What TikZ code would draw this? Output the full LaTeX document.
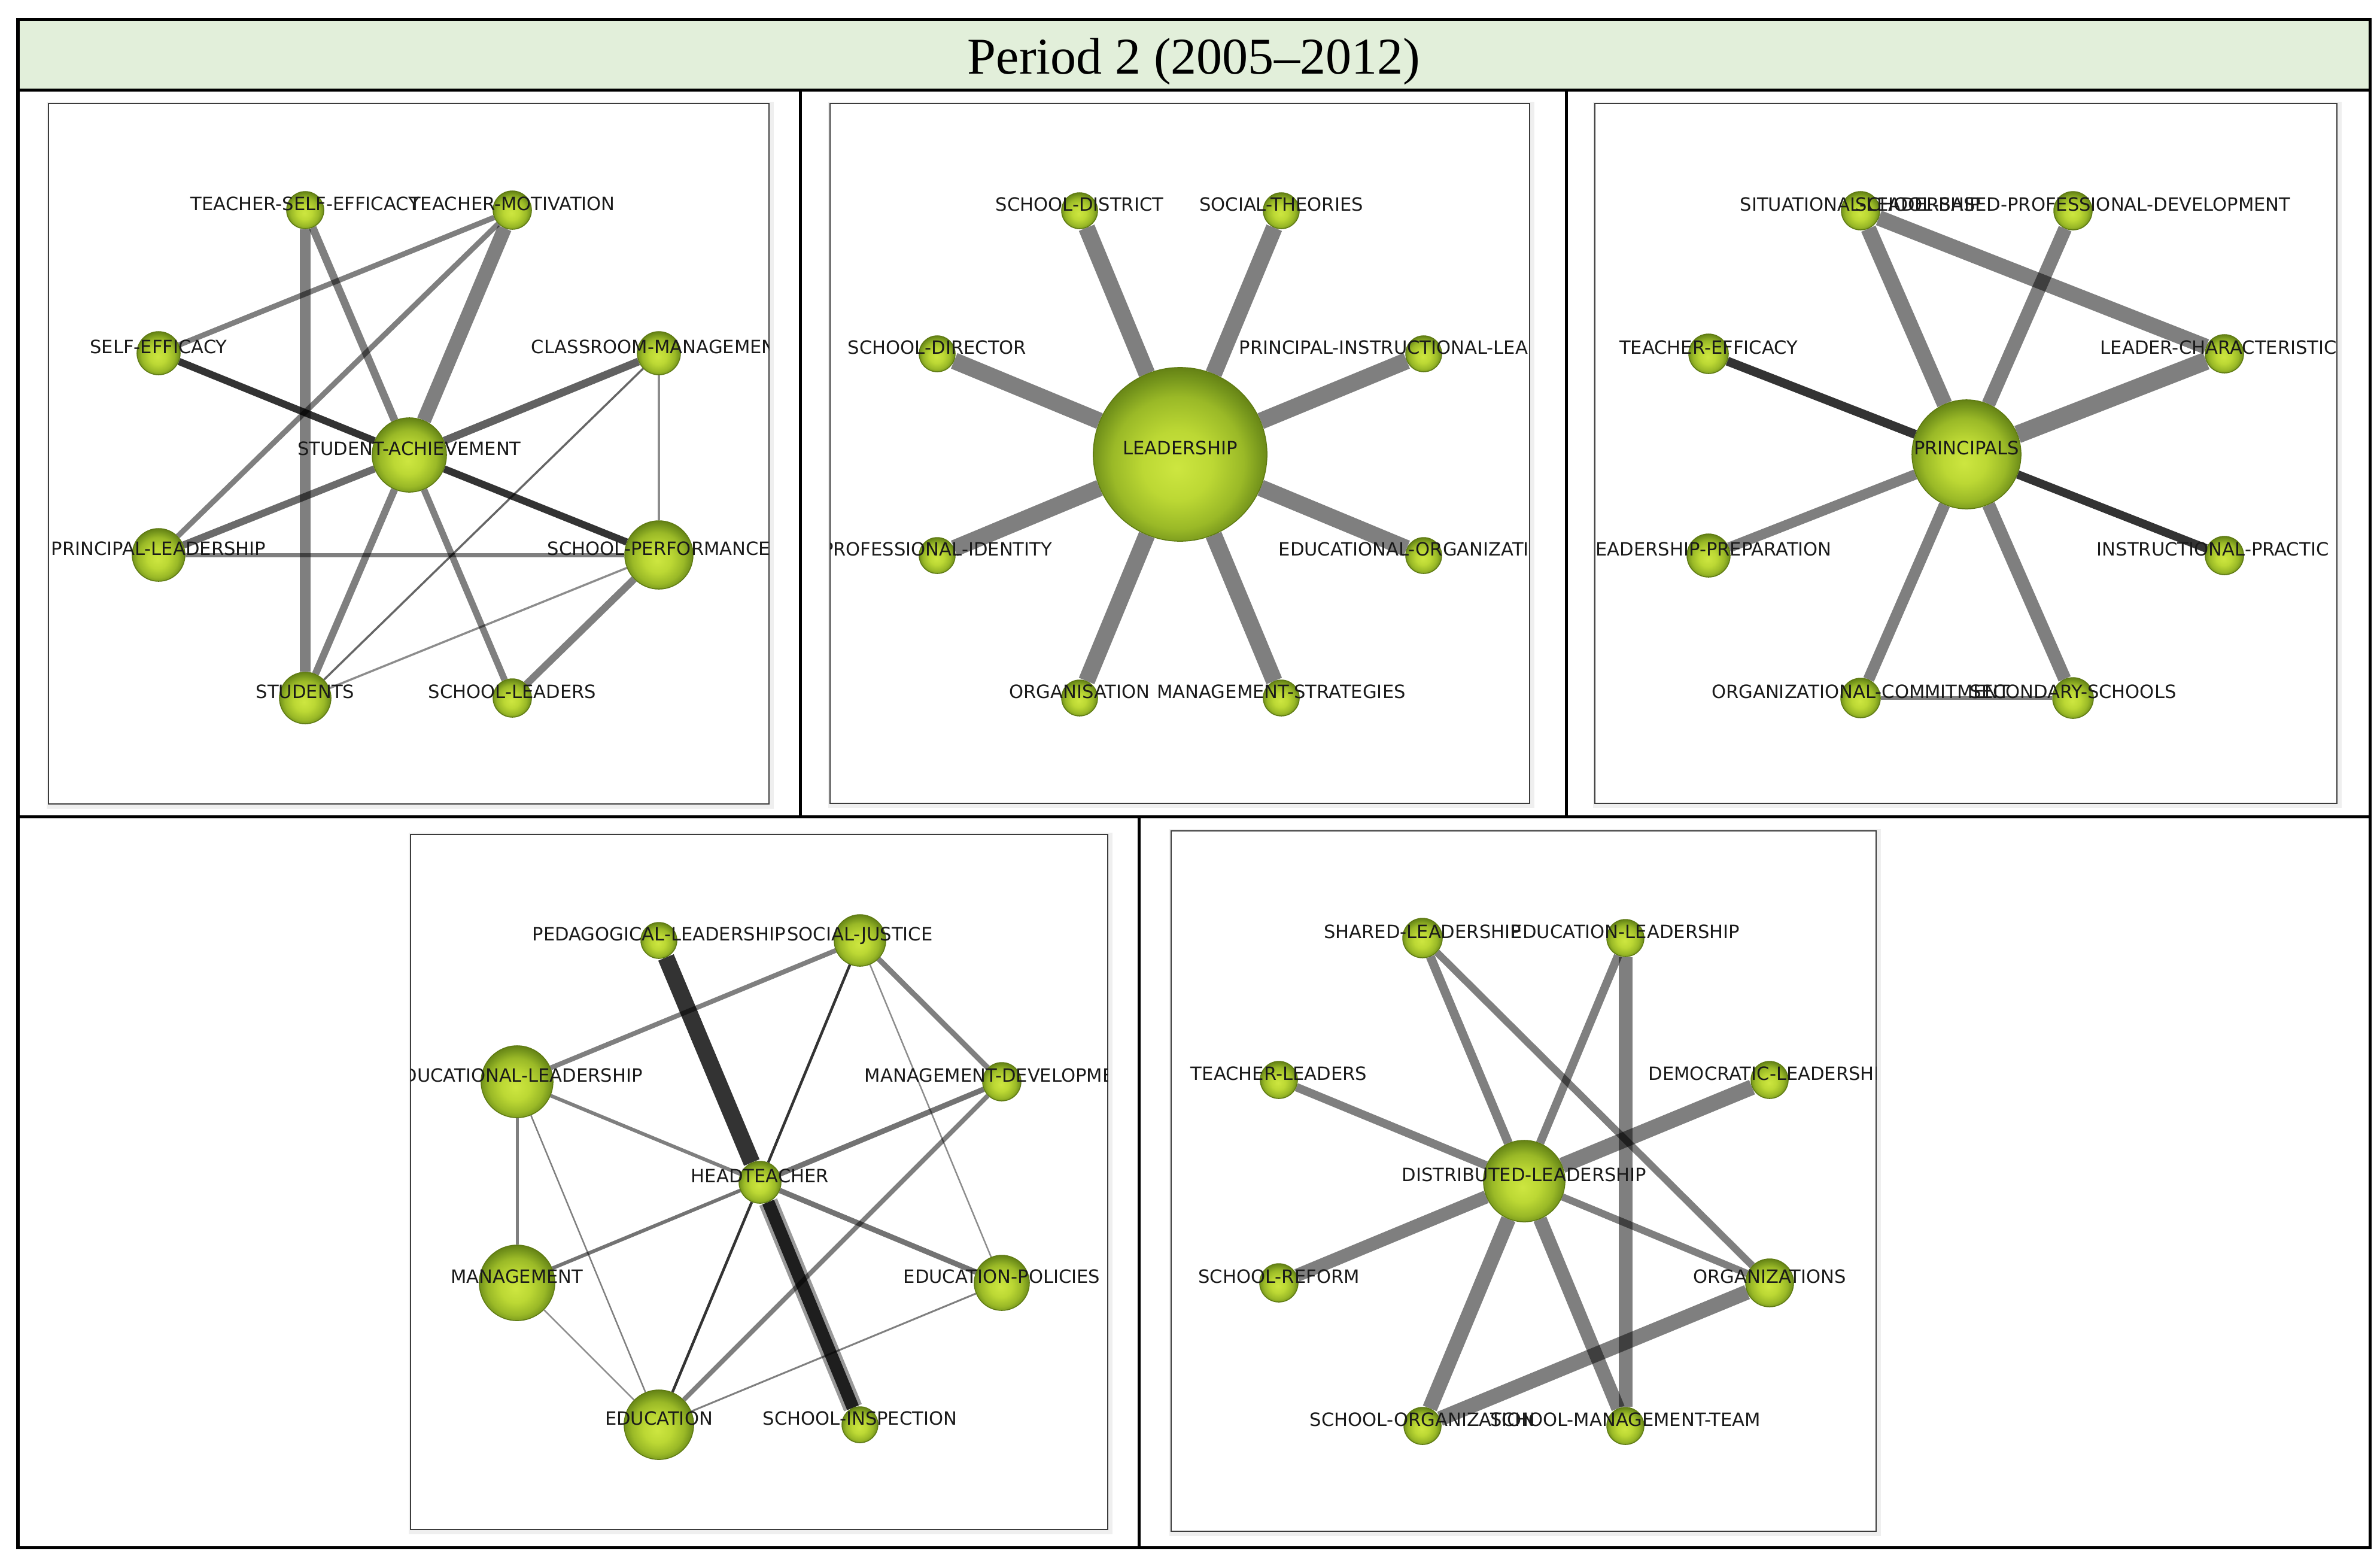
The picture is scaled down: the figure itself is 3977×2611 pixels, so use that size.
\documentclass[tikz,border=0pt]{standalone}
\usepackage{fontspec}
\newfontfamily\lblfont{DejaVu Sans}
\newfontfamily\titlefont{Liberation Serif}
\pgfdeclarelayer{boxes}
\pgfdeclarelayer{edges}
\pgfsetlayers{boxes,edges,main}
\definecolor{ballA}{HTML}{CDE640}
\definecolor{ballB}{HTML}{BCD834}
\definecolor{ballC}{HTML}{9AB927}
\definecolor{ballD}{HTML}{76961C}
\definecolor{ballE}{HTML}{5E7A12}
\definecolor{titlebg}{HTML}{E2EFDA}
\definecolor{labelc}{HTML}{1A1A1A}
\definecolor{boxline}{HTML}{3C3C3C}
\definecolor{shadowc}{HTML}{EFEFEF}
\pgfdeclareradialshading{greenball}{\pgfpoint{-1bp}{-4bp}}{color(0bp)=(ballA); color(10bp)=(ballB); color(19bp)=(ballC); color(24bp)=(ballD); color(28bp)=(ballE); color(50bp)=(ballE)}
\tikzset{
  ball/.style={circle, inner sep=0pt, minimum size=#1, shading=greenball, draw=ballE, line width=0.15mm},
  lbl/.style={anchor=base, inner sep=0pt, font=\lblfont\fontsize{8.7pt}{10pt}\selectfont, text=labelc},
  e/.style={line width=#1mm, draw=black, draw opacity=0.5},
  d/.style={line width=#1mm, draw=black, draw opacity=0.8},
  ew/.style 2 args={line width=#1mm, draw=black, draw opacity=#2},
  innerbox/.style={draw=boxline, line width=0.25mm, fill=white},
  gridline/.style={draw=black, line width=0.5mm},
}
\begin{document}
\begin{tikzpicture}[x=0.01cm,y=-0.01cm]
\useasboundingbox (0,0) rectangle (3977,2611);
\begin{pgfonlayer}{boxes}
  \fill[white] (0,0) rectangle (3977,2611);
  \fill[titlebg] (30,32) rectangle (3960,150);
  % inner panel boxes with light shadow
  \fill[shadowc] (78,170) rectangle (1293,1351);
  \draw[innerbox] (81,173) rectangle (1285,1343);
  \fill[shadowc] (1384,170) rectangle (2564,1350);
  \draw[innerbox] (1387,173) rectangle (2556,1342);
  \fill[shadowc] (2662,170) rectangle (3913,1350);
  \draw[innerbox] (2665,173) rectangle (3905,1342);
  \fill[shadowc] (683,1391) rectangle (1859,2563);
  \draw[innerbox] (686,1394) rectangle (1851,2555);
  \fill[shadowc] (1954,1385) rectangle (3143,2566);
  \draw[innerbox] (1957,1388) rectangle (3135,2558);
  % table grid
  \draw[gridline] (30,32) rectangle (3960,2585);
  \draw[gridline] (30,150) -- (3960,150);
  \draw[gridline] (30,1364) -- (3960,1364);
  \draw[gridline] (1337,150) -- (1337,1364);
  \draw[gridline] (2617,150) -- (2617,1364);
  \draw[gridline] (1903,1364) -- (1903,2585);
\end{pgfonlayer}

\node[font=\titlefont\fontsize{24.5pt}{29pt}\selectfont, anchor=base, inner sep=0pt] (title) at (1995,123) {Period 2 (2005–2012)};

% ---------- Panel 1 ----------
\node[ball=6.2mm] (tse) at (510,351) {};
\node[ball=6.4mm] (tm) at (856,351) {};
\node[ball=7.2mm] (se) at (265,590) {};
\node[ball=7.2mm] (cm) at (1101,590) {};
\node[ball=12.4mm] (sa) at (684,760) {};
\node[ball=8.8mm] (pl) at (265,927) {};
\node[ball=11.4mm] (sp) at (1101,927) {};
\node[ball=8.6mm] (st) at (510,1166) {};
\node[ball=6.4mm] (sl) at (856,1166) {};
\begin{pgfonlayer}{edges}
  \draw[e=1.3] (tse) -- (sa);
  \draw[e=1.7] (tse) -- (st);
  \draw[e=2.4] (tm) -- (sa);
  \draw[e=0.9] (tm) -- (se);
  \draw[e=0.9] (tm) -- (pl);
  \draw[d=1.2] (se) -- (sa);
  \draw[d=1.2] (sa) -- (sp);
  \draw[ew={1.3}{0.62}] (cm) -- (sa);
  \draw[ew={1.2}{0.58}] (sa) -- (pl);
  \draw[e=0.7] (pl) -- (sp);
  \draw[ew={0.35}{0.45}] (cm) -- (sp);
  \draw[ew={0.35}{0.6}] (cm) -- (st);
  \draw[ew={0.35}{0.45}] (sp) -- (st);
  \draw[e=1.2] (sp) -- (sl);
  \draw[e=1.2] (sa) -- (st);
  \draw[e=1.1] (sa) -- (sl);
\end{pgfonlayer}
\begin{scope}
  \clip (81,173) rectangle (1285,1343);
  \node[lbl] (tse-l) at (tse.center) {TEACHER-SELF-EFFICACY};
  \node[lbl] (tm-l) at (tm.center) {TEACHER-MOTIVATION};
  \node[lbl] (se-l) at (se.center) {SELF-EFFICACY};
  \node[lbl] (cm-l) at (cm.center) {CLASSROOM-MANAGEMEN\phantom{T}};
  \node[lbl] (sa-l) at (sa.center) {STUDENT-ACHIEVEMENT};
  \node[lbl] (pl-l) at (pl.center) {PRINCIPAL-LEADERSHIP};
  \node[lbl] (sp-l) at (sp.center) {SCHOOL-PERFORMANCE};
  \node[lbl] (st-l) at (st.center) {STUDENTS};
  \node[lbl] (sl-l) at (sl.center) {SCHOOL-LEADERS};
\end{scope}

% ---------- Panel 2 ----------
\node[ball=6.0mm] (sd) at (1804,352) {};
\node[ball=6.0mm] (soc) at (2141,352) {};
\node[ball=6.0mm] (sdir) at (1566,591) {};
\node[ball=6.0mm] (pil) at (2379,591) {};
\node[ball=29mm] (lead) at (1972,759) {};
\node[ball=6.0mm] (pid) at (1566,928) {};
\node[ball=6.0mm] (eo) at (2379,928) {};
\node[ball=6.0mm] (orgn) at (1804,1166) {};
\node[ball=6.0mm] (ms) at (2141,1166) {};
\begin{pgfonlayer}{edges}
  \foreach \n in {sd,soc,sdir,pil,pid,eo,orgn,ms}
    \draw[e=2.8] (lead) -- (\n);
\end{pgfonlayer}
\begin{scope}
  \clip (1387,173) rectangle (2556,1342);
  \node[lbl] (sd-l) at (sd.center) {SCHOOL-DISTRICT};
  \node[lbl] (soc-l) at (soc.center) {SOCIAL-THEORIES};
  \node[lbl] (sdir-l) at (sdir.center) {SCHOOL-DIRECTOR};
  \node[lbl] (pil-l) at (pil.center) {PRINCIPAL-INSTRUCTIONAL-LEA\phantom{DERSHIP}};
  \node[lbl] (lead-l) at (lead.center) {LEADERSHIP};
  \node[lbl] (pid-l) at (pid.center) {PROFESSIONAL-IDENTITY};
  \node[lbl] (eo-l) at (eo.center) {EDUCATIONAL-ORGANIZATI\phantom{ONS}};
  \node[lbl] (orgn-l) at (orgn.center) {ORGANISATION};
  \node[lbl] (ms-l) at (ms.center) {MANAGEMENT-STRATEGIES};
\end{scope}

% ---------- Panel 3 ----------
\node[ball=6.4mm] (sit) at (3109,352) {};
\node[ball=6.4mm] (sbpd) at (3464,352) {};
\node[ball=6.6mm] (te) at (2855,591) {};
\node[ball=6.4mm] (lc) at (3717,591) {};
\node[ball=18.2mm] (pr) at (3286,759) {};
\node[ball=7.2mm] (lp) at (2855,928) {};
\node[ball=6.4mm] (ip) at (3717,928) {};
\node[ball=6.6mm] (oc) at (3109,1166) {};
\node[ball=6.8mm] (ss) at (3464,1166) {};
\begin{pgfonlayer}{edges}
  \draw[e=2.6] (pr) -- (sit);
  \draw[e=2.3] (pr) -- (sbpd);
  \draw[e=2.6] (sit) -- (lc);
  \draw[e=3.0] (pr) -- (lc);
  \draw[d=1.5] (pr) -- (te);
  \draw[e=1.7] (pr) -- (lp);
  \draw[d=1.4] (pr) -- (ip);
  \draw[e=1.9] (pr) -- (oc);
  \draw[e=2.2] (pr) -- (ss);
  \draw[e=0.6] (oc) -- (ss);
\end{pgfonlayer}
\begin{scope}
  \clip (2665,173) rectangle (3905,1342);
  \node[lbl] (sit-l) at (sit.center) {SITUATIONAL-LEADERSHIP};
  \node[lbl] (sbpd-l) at (sbpd.center) {SCHOOL-BASED-PROFESSIONAL-DEVELOPMENT};
  \node[lbl] (te-l) at (te.center) {TEACHER-EFFICACY};
  \node[lbl] (lc-l) at (lc.center) {LEADER-CHARACTERISTIC\phantom{S}};
  \node[lbl] (pr-l) at (pr.center) {PRINCIPALS};
  \node[lbl] (lp-l) at (lp.center) {\phantom{L}EADERSHIP-PREPARATION};
  \node[lbl] (ip-l) at (ip.center) {INSTRUCTIONAL-PRACTIC\phantom{ES}};
  \node[lbl] (oc-l) at (oc.center) {ORGANIZATIONAL-COMMITMENT};
  \node[lbl] (ss-l) at (ss.center) {SECONDARY-SCHOOLS};
\end{scope}

% ---------- Panel 4 ----------
\node[ball=6.0mm] (ped) at (1101,1571) {};
\node[ball=8.6mm] (sj) at (1437,1571) {};
\node[ball=12.0mm] (edl) at (864,1807) {};
\node[ball=6.4mm] (md) at (1674,1807) {};
\node[ball=7.0mm] (ht) at (1270,1975) {};
\node[ball=12.6mm] (man) at (864,2143) {};
\node[ball=9.2mm] (ep) at (1674,2143) {};
\node[ball=11.6mm] (edu) at (1101,2380) {};
\node[ball=6.0mm] (si) at (1437,2380) {};
\begin{pgfonlayer}{edges}
  \draw[ew={3.2}{0.4}] (ht) -- (si);
  \draw[d=2.8] (ped) -- (ht);
  \draw[d=2.1] (ht) -- (si);
  \draw[e=0.8] (sj) -- (edl);
  \draw[d=0.45] (sj) -- (ht);
  \draw[e=0.9] (sj) -- (md);
  \draw[ew={0.25}{0.45}] (sj) -- (ep);
  \draw[e=0.6] (edl) -- (ht);
  \draw[e=0.5] (edl) -- (man);
  \draw[ew={0.25}{0.5}] (edl) -- (edu);
  \draw[ew={0.9}{0.55}] (md) -- (ht);
  \draw[e=0.8] (md) -- (edu);
  \draw[ew={0.6}{0.55}] (ht) -- (man);
  \draw[ew={0.9}{0.55}] (ht) -- (ep);
  \draw[d=0.45] (ht) -- (edu);
  \draw[ew={0.25}{0.45}] (man) -- (edu);
  \draw[ew={0.3}{0.5}] (ep) -- (edu);
\end{pgfonlayer}
\begin{scope}
  \clip (686,1394) rectangle (1851,2555);
  \node[lbl] (ped-l) at (ped.center) {PEDAGOGICAL-LEADERSHIP};
  \node[lbl] (sj-l) at (sj.center) {SOCIAL-JUSTICE};
  \node[lbl] (edl-l) at (edl.center) {\phantom{E}DUCATIONAL-LEADERSHIP};
  \node[lbl] (md-l) at (md.center) {MANAGEMENT-DEVELOPME\phantom{NT}};
  \node[lbl] (ht-l) at (ht.center) {HEADTEACHER};
  \node[lbl] (man-l) at (man.center) {MANAGEMENT};
  \node[lbl] (ep-l) at (ep.center) {EDUCATION-POLICIES};
  \node[lbl] (edu-l) at (edu.center) {EDUCATION};
  \node[lbl] (si-l) at (si.center) {SCHOOL-INSPECTION};
\end{scope}

% ---------- Panel 5 ----------
\node[ball=6.6mm] (shl) at (2377,1567) {};
\node[ball=6.2mm] (el) at (2716,1567) {};
\node[ball=6.2mm] (tl) at (2137,1804) {};
\node[ball=6.2mm] (dem) at (2957,1804) {};
\node[ball=13.6mm] (dl) at (2547,1973) {};
\node[ball=6.4mm] (sr) at (2137,2143) {};
\node[ball=8.0mm] (orgs) at (2957,2143) {};
\node[ball=6.2mm] (so) at (2377,2382) {};
\node[ball=6.2mm] (smt) at (2716,2382) {};
\begin{pgfonlayer}{edges}
  \draw[e=1.5] (shl) -- (dl);
  \draw[e=1.2] (shl) -- (orgs);
  \draw[e=1.4] (el) -- (dl);
  \draw[e=2.3] (el) -- (smt);
  \draw[e=1.4] (tl) -- (dl);
  \draw[e=2.6] (dem) -- (dl);
  \draw[e=2.2] (sr) -- (dl);
  \draw[e=1.2] (dl) -- (orgs);
  \draw[e=2.5] (dl) -- (so);
  \draw[e=2.3] (dl) -- (smt);
  \draw[e=2.5] (orgs) -- (so);
\end{pgfonlayer}
\begin{scope}
  \clip (1957,1388) rectangle (3135,2558);
  \node[lbl] (shl-l) at (shl.center) {SHARED-LEADERSHIP};
  \node[lbl] (el-l) at (el.center) {EDUCATION-LEADERSHIP};
  \node[lbl] (tl-l) at (tl.center) {TEACHER-LEADERS};
  \node[lbl] (dem-l) at (dem.center) {DEMOCRATIC-LEADERSHI\phantom{P}};
  \node[lbl] (dl-l) at (dl.center) {DISTRIBUTED-LEADERSHIP};
  \node[lbl] (sr-l) at (sr.center) {SCHOOL-REFORM};
  \node[lbl] (orgs-l) at (orgs.center) {ORGANIZATIONS};
  \node[lbl] (so-l) at (so.center) {SCHOOL-ORGANIZATION};
  \node[lbl] (smt-l) at (smt.center) {SCHOOL-MANAGEMENT-TEAM};
\end{scope}
\end{tikzpicture}
\end{document}
